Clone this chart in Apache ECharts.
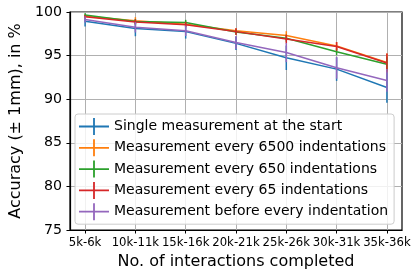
<!DOCTYPE html>
<html><head><meta charset="utf-8">
<script src="https://cdn.jsdelivr.net/npm/echarts@6/dist/echarts.min.js"></script>
<style>html,body{margin:0;padding:0;background:#fff}#c{width:418px;height:276px}</style>
</head><body><div id="c"></div>
<script>
const categories = ['5k-6k','10k-11k','15k-16k','20k-21k','25k-26k','30k-31k','35k-36k'];
const seriesNames = ['Single measurement at the start','Measurement every 6500 indentations','Measurement every 650 indentations','Measurement every 65 indentations','Measurement before every indentation'];
const colors = ['#1f77b4','#ff7f0e','#2ca02c','#d62728','#9467bd'];
const singleStart = [98.95, 98.1, 97.75, 96.4, 94.75, 93.45, 91.35];
const singleErr   = [0.6, 0.88, 0.8, 0.77, 1.4, 1.35, 1.75];
const every6500    = [99.5, 99.0, 98.6, 97.85, 97.3, 96.1, 94.2];
const every6500Err = [0.2, 0.4, 0.3, 0.3, 0.5, 0.45, 1.05];
const every650     = [99.65, 98.9, 98.8, 97.7, 97.0, 95.45, 94.0];
const every650Err  = [0.2, 0.3, 0.3, 0.3, 0.4, 0.4, 0.8];
const every65      = [99.45, 98.85, 98.55, 97.75, 96.9, 96.05, 94.15];
const every65Err   = [0.2, 0.3, 0.3, 0.4, 0.5, 0.5, 1.1];
const beforeEvery    = [99.15, 98.25, 97.85, 96.5, 95.35, 93.6, 92.15];
const beforeEveryErr = [0.35, 0.6, 0.6, 0.75, 1.1, 1.25, 1.3];
const yTicks = [75, 80, 85, 90, 95, 100];

const values = [singleStart, every6500, every650, every65, beforeEvery];
const errs = [singleErr, every6500Err, every650Err, every65Err, beforeEveryErr];
const idx = categories.map((c, i) => i);
const font = 'DejaVu Sans';
const iconPath = 'path://M0,7.6L30,7.6L30,9.4L0,9.4Z M14.1,0L15.9,0L15.9,17L14.1,17Z';
const yMin = yTicks[0], yMax = yTicks[yTicks.length - 1];

const series = [{
  name: 'vgrid', type: 'line', z: 1, silent: true, animation: false, data: [],
  markLine: {
    z: 1, silent: true, animation: false, symbol: ['none', 'none'],
    label: { show: false },
    lineStyle: { color: '#b0b0b0', width: 1, type: 'solid' },
    emphasis: { disabled: true },
    data: idx.map(i => ({ xAxis: i }))
  }
}];
values.forEach((vals, s) => {
  series.push({
    name: seriesNames[s], type: 'line', symbol: 'none', z: 2 + s,
    data: vals.map((v, i) => [i, v]),
    lineStyle: { color: colors[s], width: 1.5 }, itemStyle: { color: colors[s] },
    animation: false, silent: true
  });
  series.push({
    name: seriesNames[s], type: 'custom', z: 2 + s,
    data: vals.map((v, i) => [i, v, errs[s][i]]),
    itemStyle: { color: colors[s] },
    renderItem: function (params, api) {
      const x = api.value(0), v = api.value(1), e = api.value(2);
      const p1 = api.coord([x, v - e]), p2 = api.coord([x, v + e]);
      return { type: 'line', shape: { x1: p1[0], y1: p1[1], x2: p2[0], y2: p2[1] },
        style: { stroke: colors[s], lineWidth: 1.5 } };
    },
    animation: false, silent: true
  });
});

const chart = echarts.init(document.getElementById('c'), null, { renderer: 'canvas' });
chart.setOption({
  animation: false,
  textStyle: { fontFamily: font },
  grid: { left: 68, right: 16, top: 12, bottom: 46, show: true, borderColor: '#000', borderWidth: 1.2, backgroundColor: 'transparent' },
  xAxis: {
    type: 'value', min: -0.3, max: 6.3,
    name: 'No. of interactions completed', nameLocation: 'middle', nameGap: 21,
    nameTextStyle: { fontSize: 16, color: '#000', fontFamily: font },
    axisLine: { show: true, onZero: false, lineStyle: { color: '#000', width: 1.2 } },
    axisTick: { show: true, length: 3.5, lineStyle: { color: '#000' }, customValues: idx },
    axisLabel: { customValues: idx, fontSize: 11.7, color: '#000', margin: 7, fontFamily: font,
      formatter: v => categories[Math.round(v)] },
    splitLine: { show: false }
  },
  yAxis: {
    type: 'value', min: yMin, max: yMax, interval: 5,
    name: 'Accuracy (± 1mm), in %', nameLocation: 'middle', nameGap: 41,
    nameTextStyle: { fontSize: 16, color: '#000', fontFamily: font },
    axisLine: { show: true, onZero: false, lineStyle: { color: '#000', width: 1.2 } },
    axisTick: { show: true, length: 3.5, lineStyle: { color: '#000' } },
    axisLabel: { fontSize: 14.2, color: '#000', margin: 8, fontFamily: font },
    splitLine: { show: true, lineStyle: { color: '#b0b0b0', width: 1 } }
  },
  legend: {
    z: 20,
    orient: 'vertical', left: 75, top: 114,
    padding: [4, 6, 4, 4], itemGap: 4.3, itemWidth: 30, itemHeight: 17, itemTextGap: 13,
    backgroundColor: 'rgba(255,255,255,0.82)', borderColor: '#cccccc', borderWidth: 1, borderRadius: 3,
    textStyle: { fontSize: 14, color: '#000', fontFamily: font },
    data: seriesNames.map((n, s) => ({ name: n, icon: iconPath, itemStyle: { color: colors[s] } })),
    selectedMode: false
  },
  series: series
});
</script></body></html>
